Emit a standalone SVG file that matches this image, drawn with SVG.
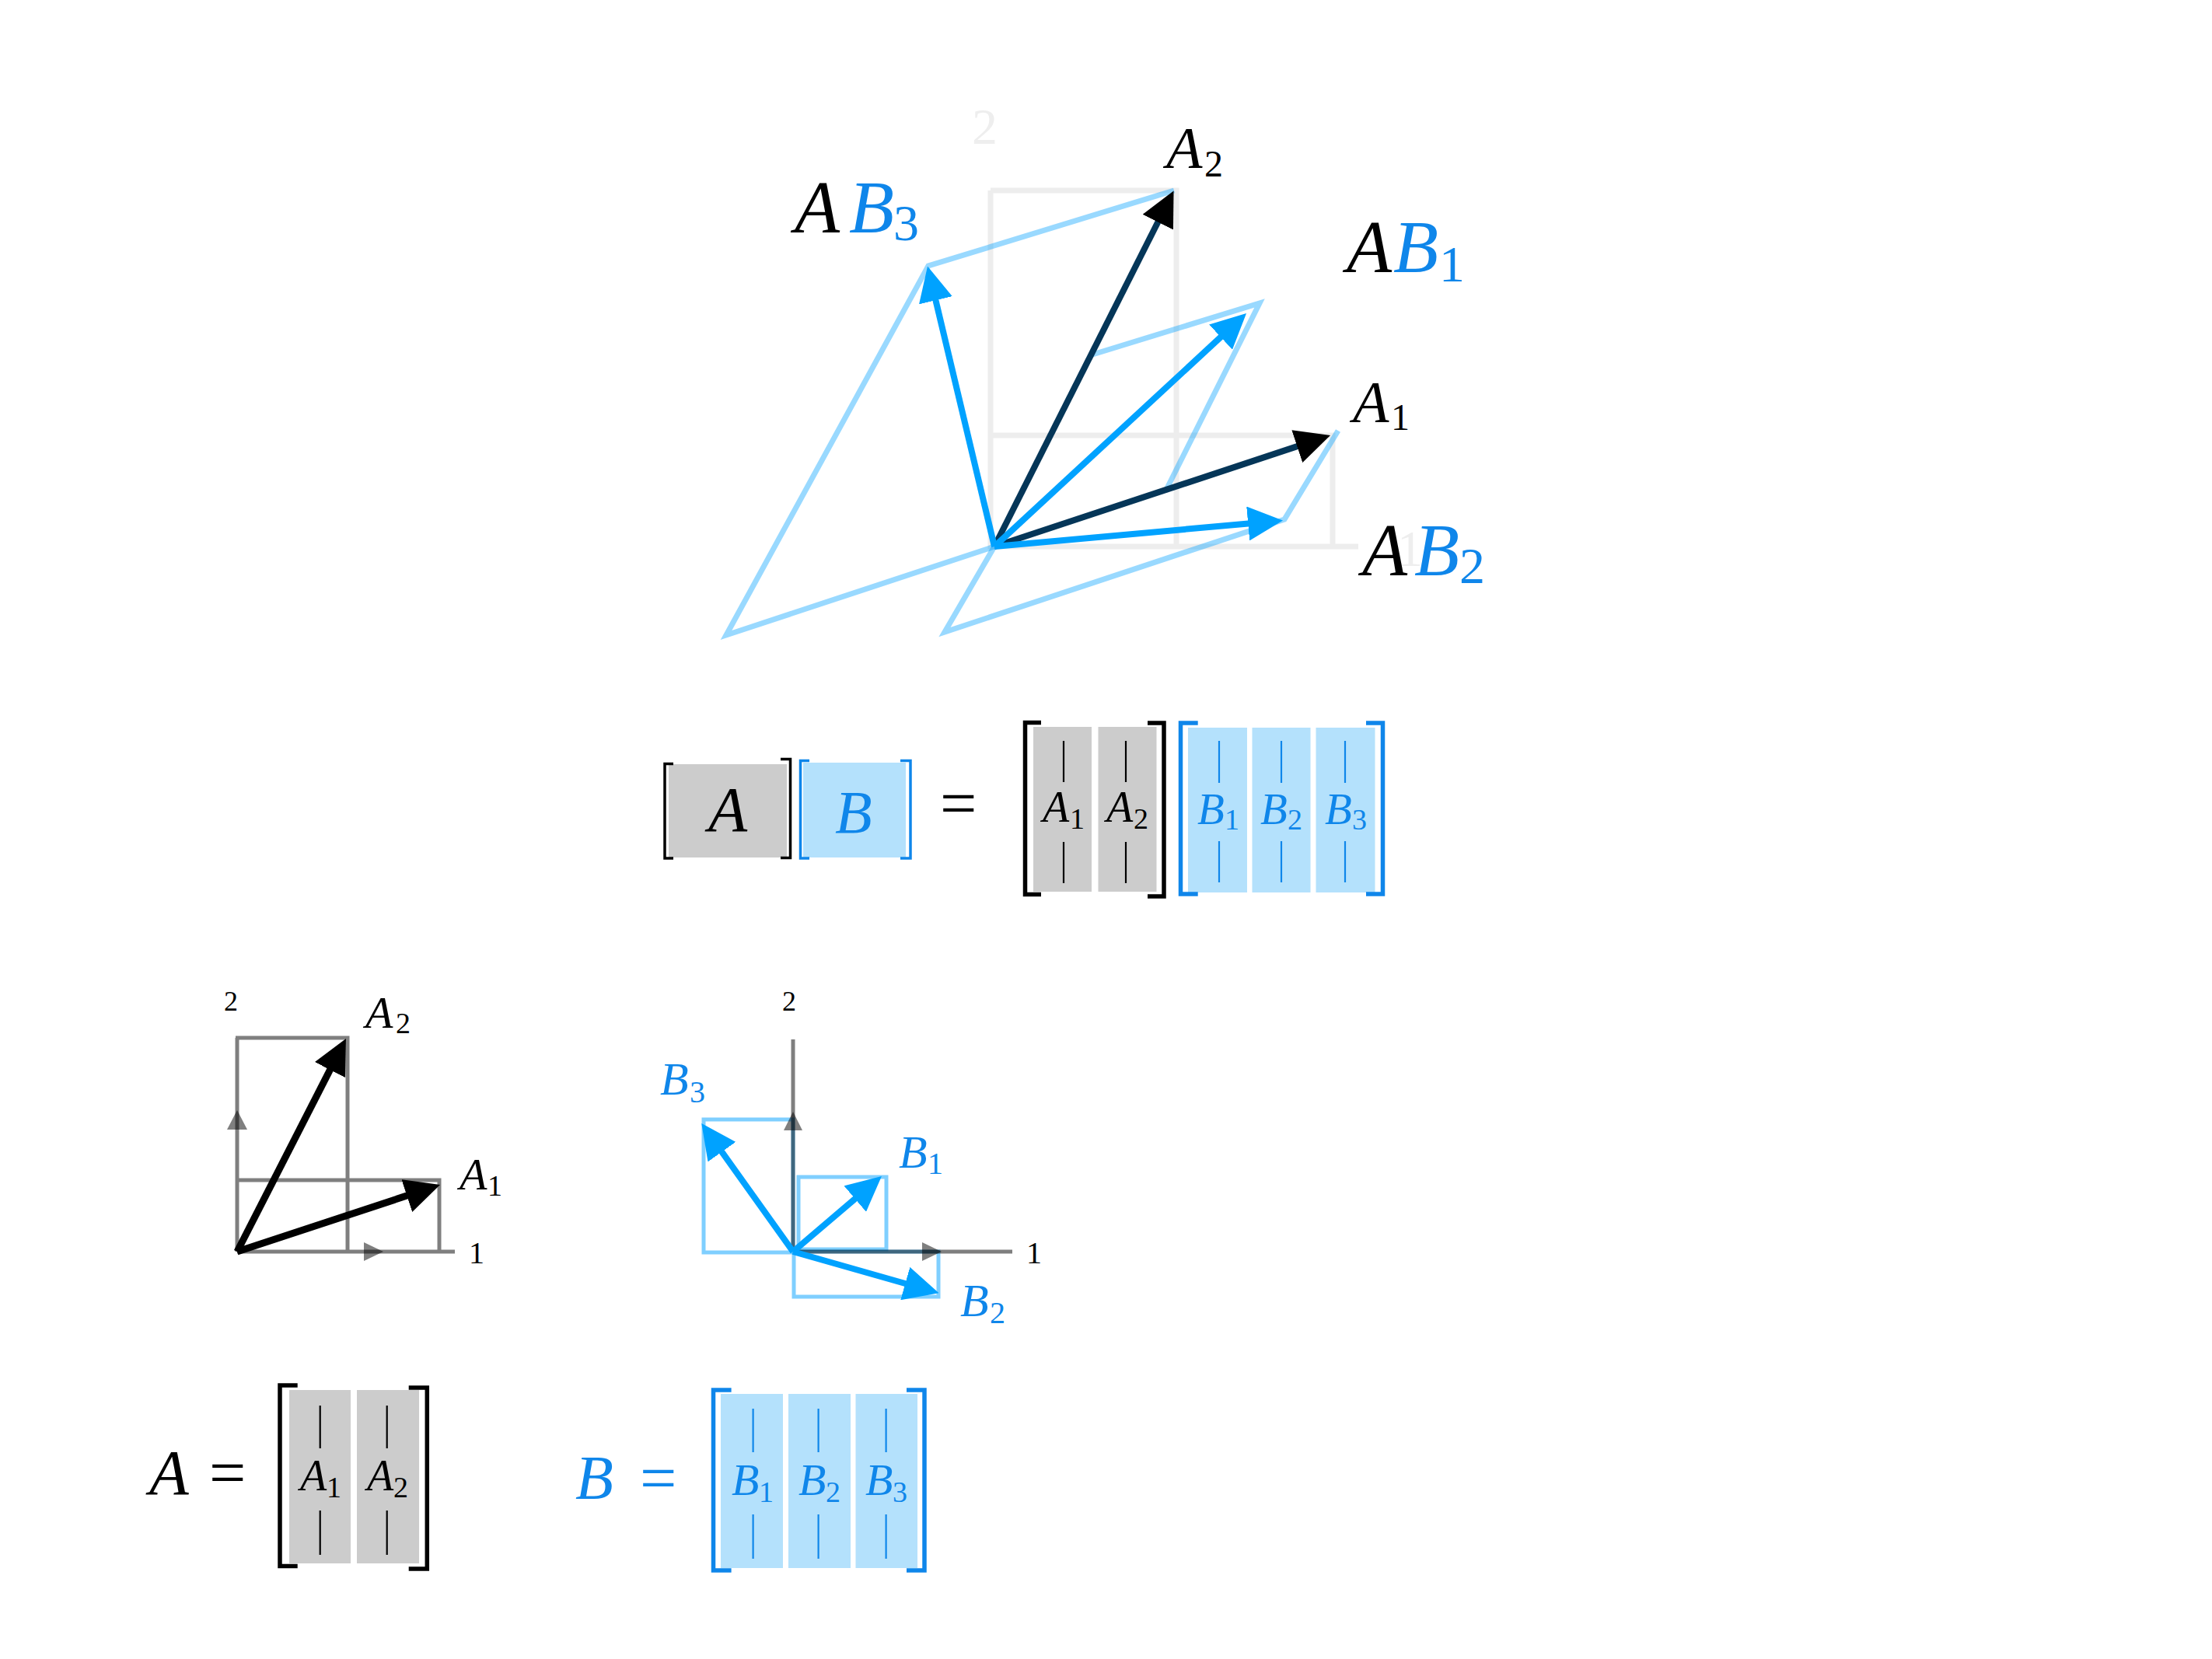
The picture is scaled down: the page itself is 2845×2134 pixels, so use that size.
<svg xmlns="http://www.w3.org/2000/svg" width="2845" height="2134" viewBox="0 0 2845 2134">
<style>
.v{font-family:"Liberation Serif","Times New Roman",serif;font-style:italic}
.n{font-family:"Liberation Serif","Times New Roman",serif;font-style:normal}
.k{fill:#000}
.b{fill:#0f86ea}
.grid{fill:none;stroke:#000;stroke-opacity:0.07;stroke-width:7}
.para{fill:none;stroke:#00a0ff;stroke-opacity:0.4;stroke-width:7;stroke-linejoin:miter}
.vb{fill:none;stroke:#00a2ff;stroke-width:8}
.va{fill:none;stroke:#053658;stroke-width:8}
.vk{fill:none;stroke:#000;stroke-width:9}
.ax{fill:none;stroke:#000;stroke-opacity:0.5;stroke-width:5}
.axh{fill:#000;fill-opacity:0.5}
.bbox{fill:none;stroke:#00a0ff;stroke-opacity:0.5;stroke-width:5}
.gcol{fill:#cccccc}
.bcol{fill:#b4e1fc}
.brk{fill:none;stroke:#000;stroke-width:5.5}
.brb{fill:none;stroke:#0f86ea;stroke-width:5.5}
.brk2{fill:none;stroke:#000;stroke-width:3.5}
.brb2{fill:none;stroke:#0f86ea;stroke-width:3.5}
.bark{stroke:#000;stroke-width:2.2}
.barb{stroke:#0f86ea;stroke-width:2.2}
</style>
<defs>
<marker id="hb" markerUnits="userSpaceOnUse" viewBox="0 0 45 44" markerWidth="45" markerHeight="44" refX="20" refY="22" orient="auto"><path d="M0,0 L45,22 L0,44 z" fill="#00a2ff"/></marker>
<marker id="hk" markerUnits="userSpaceOnUse" viewBox="0 0 45 44" markerWidth="45" markerHeight="44" refX="20" refY="22" orient="auto"><path d="M0,0 L45,22 L0,44 z" fill="#000"/></marker>
</defs>
<rect width="2845" height="2134" fill="#fff"/>

<!-- TOP: transformed picture -->
<g id="top-grid">
<path class="grid" d="M1274,245 H1513 V703 M1274,560 H1714 V703 M1274,245 V703 H1747"/>
<text class="n" x="1250" y="185" font-size="66" fill="#eeeeee">2</text>
<text class="n" x="1797" y="728" font-size="66" fill="#eeeeee">1</text>
</g>
<g id="top-parallelograms">
<path class="para" d="M1279,703 L934,817 L1194,342 L1510,245"/>
<path class="para" d="M1279,703 L1215,813 L1652,668 L1721,554"/>
<path class="para" d="M1499,632 L1620,390 L1402,457"/>
</g>
<g id="top-vectors">
<path class="va" d="M1279,703 L1498.3,267.8" marker-end="url(#hk)"/>
<path class="va" d="M1279,703 L1687.3,567.9" marker-end="url(#hk)"/>
<path class="vb" d="M1279,703 L1584.7,420" marker-end="url(#hb)"/>
<path class="vb" d="M1279,703 L1625.1,671.7" marker-end="url(#hb)"/>
<path class="vb" d="M1279,703 L1198.8,366.8" marker-end="url(#hb)"/>
</g>
<g id="top-labels">
<text class="v k" x="1500" y="216" font-size="76">A</text><text class="n k" x="1549" y="227" font-size="48">2</text>
<text class="v k" x="1740" y="543" font-size="76">A</text><text class="n k" x="1789" y="553" font-size="48">1</text>
<text class="v k" x="1022" y="299" font-size="95">A</text><text class="v b" x="1092" y="299" font-size="95">B</text><text class="n b" x="1149" y="309" font-size="66">3</text>
<text class="v k" x="1732" y="350" font-size="95">A</text><text class="v b" x="1792" y="350" font-size="95">B</text><text class="n b" x="1851" y="362" font-size="66">1</text>
<text class="v k" x="1752" y="740" font-size="95">A</text><text class="v b" x="1819" y="740" font-size="95">B</text><text class="n b" x="1877" y="750" font-size="66">2</text>
</g>

<!-- MIDDLE: [A][B] = [A1 A2][B1 B2 B3] -->
<g id="mid-A">
<rect class="gcol" x="860" y="983" width="152" height="120"/>
<path class="brk2" d="M866,982.5 H855 V1104 H866"/>
<path class="brk2" d="M1004,976.5 H1016.5 V1103.5 H1004"/>
<text class="v k" x="911" y="1069" font-size="82">A</text>
</g>
<g id="mid-B">
<rect class="bcol" x="1033" y="981" width="132" height="122"/>
<path class="brb2" d="M1041,978.5 H1029.5 V1104 H1041"/>
<path class="brb2" d="M1158,978.5 H1171 V1104 H1158"/>
<text class="v b" x="1074" y="1071" font-size="78">B</text>
</g>
<text class="n k" x="1209" y="1062" font-size="84">=</text>
<g id="mid-Acols">
<rect class="gcol" x="1329" y="935" width="75" height="212"/>
<rect class="gcol" x="1412.5" y="935" width="75" height="212"/>
<path class="brk" d="M1339,929.5 H1318.5 V1150.5 H1339"/>
<path class="brk" d="M1476,930 H1497 V1153 H1476"/>
<line class="bark" x1="1368" y1="953" x2="1368" y2="1006"/><line class="bark" x1="1368" y1="1083" x2="1368" y2="1136"/>
<line class="bark" x1="1448" y1="953" x2="1448" y2="1006"/><line class="bark" x1="1448" y1="1083" x2="1448" y2="1136"/>
<text class="v k" x="1341" y="1057" font-size="56">A</text><text class="n k" x="1376" y="1066" font-size="38">1</text>
<text class="v k" x="1423" y="1057" font-size="56">A</text><text class="n k" x="1458" y="1066" font-size="38">2</text>
</g>
<g id="mid-Bcols">
<rect class="bcol" x="1528" y="936" width="76" height="212"/>
<rect class="bcol" x="1610.5" y="936" width="75" height="212"/>
<rect class="bcol" x="1692.5" y="936" width="76" height="212"/>
<path class="brb" d="M1540.7,930 H1518.5 V1150 H1540.7"/>
<path class="brb" d="M1757,930 H1778.5 V1150 H1757"/>
<line class="barb" x1="1568" y1="953" x2="1568" y2="1007"/><line class="barb" x1="1568" y1="1082" x2="1568" y2="1135"/>
<line class="barb" x1="1648" y1="953" x2="1648" y2="1007"/><line class="barb" x1="1648" y1="1082" x2="1648" y2="1135"/>
<line class="barb" x1="1730" y1="953" x2="1730" y2="1007"/><line class="barb" x1="1730" y1="1082" x2="1730" y2="1135"/>
<text class="v b" x="1540" y="1060" font-size="57">B</text><text class="n b" x="1575" y="1067" font-size="38">1</text>
<text class="v b" x="1621" y="1060" font-size="57">B</text><text class="n b" x="1656" y="1067" font-size="38">2</text>
<text class="v b" x="1704" y="1060" font-size="57">B</text><text class="n b" x="1739" y="1067" font-size="38">3</text>
</g>

<!-- PLOT A -->
<g id="plotA">
<path class="ax" d="M303,1335 H447 V1610 M303,1518 H565 V1610 M305,1610 H585 M305,1610 V1335"/>
<polygon class="axh" points="493,1610 468,1598 468,1622"/>
<polygon class="axh" points="305,1428 292,1453 318,1453"/>
<path class="vk" d="M305,1610 L433.6,1358.3" marker-end="url(#hk)"/>
<path class="vk" d="M305,1610 L542.3,1531.8" marker-end="url(#hk)"/>
<text class="n k" x="288" y="1300" font-size="36">2</text>
<text class="n k" x="603" y="1625" font-size="40">1</text>
<text class="v k" x="470" y="1322" font-size="58">A</text><text class="n k" x="509" y="1329" font-size="38">2</text>
<text class="v k" x="591" y="1530" font-size="58">A</text><text class="n k" x="627" y="1538" font-size="38">1</text>
</g>

<!-- PLOT B -->
<g id="plotB">
<rect class="bbox" x="1027" y="1514" width="113" height="93"/>
<rect class="bbox" x="1021" y="1610" width="186" height="58"/>
<rect class="bbox" x="905" y="1440" width="115" height="171"/>
<path class="ax" d="M1020,1610 H1302 M1020,1610 V1337"/>
<polygon class="axh" points="1211,1610 1186,1598 1186,1622"/>
<polygon class="axh" points="1020,1430 1008,1454 1032,1454"/>
<path class="vb" d="M1020,1610 L1114.9,1529.1" marker-end="url(#hb)"/>
<path class="vb" d="M1020,1610 L1183.5,1656.5" marker-end="url(#hb)"/>
<path class="vb" d="M1020,1610 L916.8,1465.4" marker-end="url(#hb)"/>
<text class="n k" x="1006" y="1300" font-size="36">2</text>
<text class="n k" x="1320" y="1625" font-size="40">1</text>
<text class="v b" x="849" y="1408" font-size="60">B</text><text class="n b" x="887" y="1418" font-size="40">3</text>
<text class="v b" x="1156" y="1502" font-size="60">B</text><text class="n b" x="1193" y="1510" font-size="40">1</text>
<text class="v b" x="1235" y="1693" font-size="60">B</text><text class="n b" x="1273" y="1702" font-size="40">2</text>
</g>

<!-- BOTTOM: A = [A1 A2], B = [B1 B2 B3] -->
<g id="bot-A">
<text class="v k" x="192" y="1922" font-size="83">A</text>
<text class="n k" x="269" y="1923" font-size="84">=</text>
<rect class="gcol" x="372" y="1788" width="79" height="223"/>
<rect class="gcol" x="459" y="1788" width="80" height="223"/>
<path class="brk" d="M382.7,1782 H360 V2014.5 H382.7"/>
<path class="brk" d="M525.7,1785 H549.3 V2018 H525.7"/>
<line class="bark" x1="411.7" y1="1808" x2="411.7" y2="1863"/><line class="bark" x1="411.7" y1="1943" x2="411.7" y2="2000"/>
<line class="bark" x1="497.7" y1="1808" x2="497.7" y2="1863"/><line class="bark" x1="497.7" y1="1943" x2="497.7" y2="2000"/>
<text class="v k" x="386" y="1917" font-size="56">A</text><text class="n k" x="420" y="1926" font-size="38">1</text>
<text class="v k" x="472" y="1917" font-size="56">A</text><text class="n k" x="506" y="1926" font-size="38">2</text>
</g>
<g id="bot-B">
<text class="v b" x="740" y="1928" font-size="80">B</text>
<text class="n b" x="823" y="1930" font-size="84">=</text>
<rect class="bcol" x="927" y="1793" width="80" height="224"/>
<rect class="bcol" x="1014" y="1793" width="80" height="224"/>
<rect class="bcol" x="1100.5" y="1793" width="79.5" height="224"/>
<path class="brb" d="M940.6,1788 H917.5 V2020 H940.6"/>
<path class="brb" d="M1166,1788 H1189 V2020 H1166"/>
<line class="barb" x1="968.6" y1="1812" x2="968.6" y2="1868"/><line class="barb" x1="968.6" y1="1948" x2="968.6" y2="2005"/>
<line class="barb" x1="1052.6" y1="1812" x2="1052.6" y2="1868"/><line class="barb" x1="1052.6" y1="1948" x2="1052.6" y2="2005"/>
<line class="barb" x1="1139.6" y1="1812" x2="1139.6" y2="1868"/><line class="barb" x1="1139.6" y1="1948" x2="1139.6" y2="2005"/>
<text class="v b" x="941" y="1923" font-size="58">B</text><text class="n b" x="976" y="1932" font-size="38">1</text>
<text class="v b" x="1027" y="1923" font-size="58">B</text><text class="n b" x="1062" y="1932" font-size="38">2</text>
<text class="v b" x="1113" y="1923" font-size="58">B</text><text class="n b" x="1148" y="1932" font-size="38">3</text>
</g>
</svg>
